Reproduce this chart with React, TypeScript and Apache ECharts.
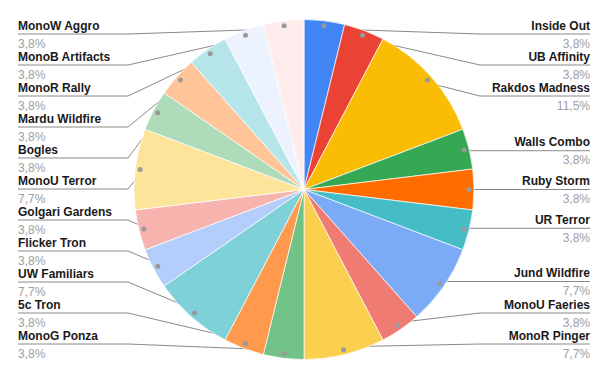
import React, { useEffect, useRef } from "react";
import * as echarts from "echarts";

const names = [
  "Inside Out", "UB Affinity", "Rakdos Madness", "Walls Combo", "Ruby Storm",
  "UR Terror", "Jund Wildfire", "MonoU Faeries", "MonoR Pinger", "MonoG Ponza",
  "5c Tron", "UW Familiars", "Flicker Tron", "Golgari Gardens", "MonoU Terror",
  "Bogles", "Mardu Wildfire", "MonoR Rally", "MonoB Artifacts", "MonoW Aggro",
];
const values = [1, 1, 3, 1, 1, 1, 2, 1, 2, 1, 1, 2, 1, 1, 2, 1, 1, 1, 1, 1];
const colors = [
  "#4285f4", "#ea4335", "#fbbc04", "#34a853", "#ff6d01",
  "#46bdc6", "#7baaf7", "#f07b72", "#fcd04f", "#71c287",
  "#ff994d", "#7ed1d7", "#b3cefb", "#f7b4ae", "#fde49b",
  "#aedcba", "#ffc599", "#b5e5e8", "#ecf3fe", "#fdeceb",
];

const CX = 304;
const CY = 189.5;
const R = 170;
const DOT_R = 162;
const SPACING = 31;
const MIN_Y = 34;
const MAX_Y = 344;
const LEFT_X = 18;
const LEFT_ELBOW = 128;
const RIGHT_X = 590;
const RIGHT_ELBOW = 480;

type LabelPos = { dot: number[]; y: number; left: boolean };

function computeLabels(): LabelPos[] {
  const total = values.reduce((a, b) => a + b, 0);
  let cum = 0;
  const res: LabelPos[] = values.map((v) => {
    const mid = ((cum + v / 2) / total) * Math.PI * 2;
    cum += v;
    const dot = [CX + DOT_R * Math.sin(mid), CY - DOT_R * Math.cos(mid)];
    return { dot, y: dot[1], left: dot[0] < CX };
  });
  [true, false].forEach((side) => {
    const idx = res
      .map((r, i) => i)
      .filter((i) => res[i].left === side)
      .sort((a, b) => res[a].dot[1] - res[b].dot[1]);
    let prev = -Infinity;
    idx.forEach((i) => {
      const y = Math.max(res[i].dot[1], prev + SPACING, MIN_Y);
      res[i].y = y;
      prev = y;
    });
    let next = Infinity;
    for (let k = idx.length - 1; k >= 0; k--) {
      const i = idx[k];
      const y = Math.min(res[i].y, next - SPACING, MAX_Y);
      res[i].y = y;
      next = y;
    }
  });
  return res;
}

export default function App() {
  const ref = useRef<HTMLDivElement>(null);
  useEffect(() => {
    if (!ref.current) return;
    const chart = echarts.init(ref.current, undefined, { renderer: "svg" });
    const labels = computeLabels();
    const total = values.reduce((a, b) => a + b, 0);
    const data = names.map((n, i) => ({ name: n, value: values[i] }));
    chart.setOption({
      animation: false,
      backgroundColor: "#ffffff",
      color: colors,
      series: [
        {
          type: "pie",
          center: [CX, CY],
          radius: [0, R],
          startAngle: 90,
          clockwise: true,
          avoidLabelOverlap: false,
          itemStyle: { borderColor: "#ffffff", borderWidth: 0.7 },
          data,
          label: {
            show: true,
            position: "outside",
            formatter: (p: any) =>
              `{n|${p.name}}\n{p|${((p.value / total) * 100)
                .toFixed(1)
                .replace(".", ",")}%}`,
            rich: {
              n: {
                fontFamily: "Liberation Sans, Arial, sans-serif",
                fontSize: 12,
                fontWeight: "bold",
                color: "#1a1a1a",
                lineHeight: 17,
              },
              p: {
                fontFamily: "Liberation Sans, Arial, sans-serif",
                fontSize: 12,
                color: "#9e9e9e",
                lineHeight: 19,
              },
            },
          },
          labelLine: {
            show: true,
            length: 5,
            length2: 5,
            lineStyle: { color: "#8a8a8a", width: 1 },
          },
          labelLayout: (params: any) => {
            const l = labels[params.dataIndex];
            const y = l.y;
            if (l.left) {
              return {
                x: LEFT_X,
                y: y - 17,
                align: "left",
                verticalAlign: "top",
                labelLinePoints: [l.dot, [LEFT_ELBOW, y], [LEFT_X, y]],
              };
            }
            return {
              x: RIGHT_X,
              y: y - 17,
              align: "right",
              verticalAlign: "top",
              labelLinePoints: [l.dot, [RIGHT_ELBOW, y], [RIGHT_X, y]],
            };
          },
        },
        {
          type: "pie",
          center: [CX, CY],
          radius: [DOT_R - 8, DOT_R + 8],
          startAngle: 90,
          clockwise: true,
          silent: true,
          avoidLabelOverlap: false,
          itemStyle: { color: "rgba(0,0,0,0)", borderWidth: 0 },
          data,
          labelLine: { show: false },
          label: {
            show: true,
            position: "inside",
            formatter: "{d|}",
            rich: {
              d: {
                width: 5,
                height: 5,
                borderRadius: 2.5,
                backgroundColor: "#9a9a9a",
              },
            },
          },
        },
      ],
    });
    return () => chart.dispose();
  }, []);
  return (
    <div
      ref={ref}
      style={{ position: "absolute", left: 0, top: 0, width: 608, height: 379 }}
    />
  );
}
